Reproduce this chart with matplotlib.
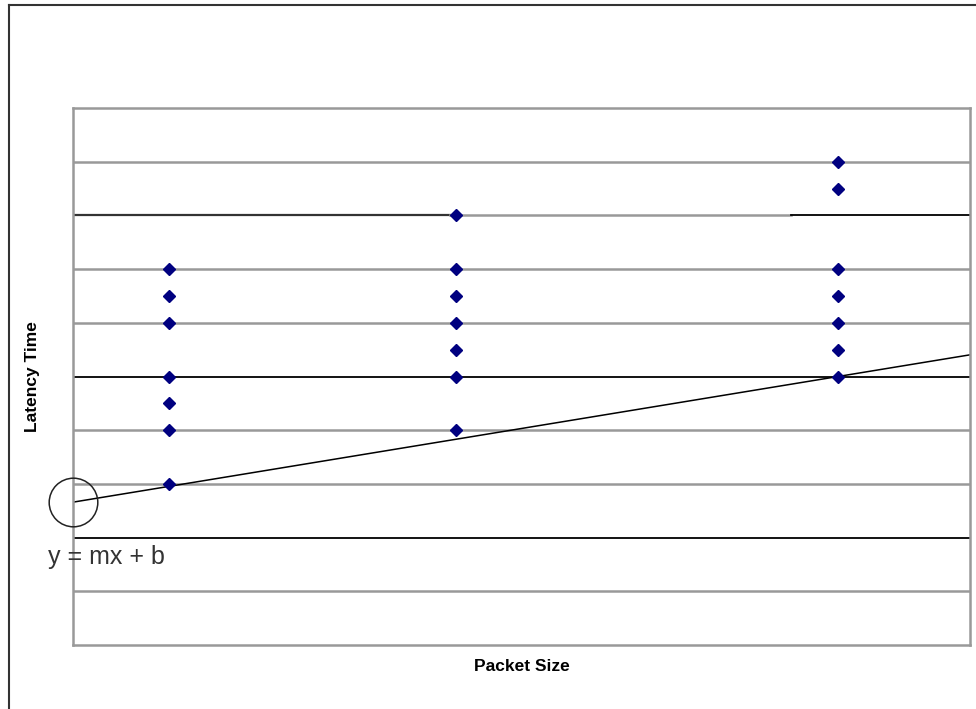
import numpy as np
import matplotlib.pyplot as plt
from matplotlib.lines import Line2D

plt.rcParams['font.family'] = ['Liberation Sans', 'DejaVu Sans']

# packet size groups and measured latencies (chart units)
packet_size = [1, 4, 8]
latency_1 = [7, 6.5, 6, 5, 4.5, 4, 3]
latency_4 = [8, 7, 6.5, 6, 5.5, 5, 4]
latency_8 = [9, 8.5, 7, 6.5, 6, 5.5, 5]

# fitted line y = mx + b
slope = 0.2925
intercept = 2.66

grid_levels = np.arange(1, 10)
dark_levels = [2, 5]

fig = plt.figure(figsize=(9.76, 7.09), dpi=100)
ax = fig.add_axes([73/976, 64/709, 897/976, 537/709])

xmax = 9.38
ax.set_xlim(0, xmax)
ax.set_ylim(0, 10)

for lv in grid_levels:
    if lv in dark_levels:
        ax.axhline(lv, color='black', lw=1.3, zorder=1)
    elif lv == 8:
        ax.axhline(lv, color='#333333', lw=1.6, xmin=0, xmax=0.42, zorder=1)
        ax.axhline(lv, color='#999999', lw=1.8, xmin=0.42, xmax=0.8, zorder=1)
        ax.axhline(lv, color='black', lw=1.3, xmin=0.8, xmax=1, zorder=1)
    else:
        ax.axhline(lv, color='#999999', lw=1.8, zorder=1)

groups = [latency_1, latency_4, latency_8]
for xs, ys in zip(packet_size, groups):
    ax.plot([xs] * len(ys), ys, linestyle='none', marker='D', markersize=6,
            color='#000080', zorder=3)

xl = np.array([0, xmax])
ax.plot(xl, slope * xl + intercept, color='black', lw=1.1, zorder=2)

ax.plot([0], [intercept], marker='o', markersize=35, markerfacecolor='none',
        markeredgecolor='#222222', markeredgewidth=1.1, clip_on=False, zorder=4)
ax.text(0.35, 1.64, 'y = mx + b', fontsize=18, color='#333333',
        ha='center', va='center', clip_on=False)

for s in ax.spines.values():
    s.set_color('#999999')
    s.set_linewidth(1.8)
ax.set_xticks([])
ax.set_yticks([])

ax.set_xlabel('Packet Size', fontsize=12.5, fontweight='bold', labelpad=10)
ax.set_ylabel('Latency Time', fontsize=12.5, fontweight='bold', labelpad=24)

# outer frame (left and top edges visible)
fig.add_artist(Line2D([9/976, 9/976], [0, 1 - 5/709], color='#333333', lw=1.5))
fig.add_artist(Line2D([9/976, 1], [1 - 5/709, 1 - 5/709], color='#333333', lw=1.5))

fig.savefig('out.png', dpi=100)
